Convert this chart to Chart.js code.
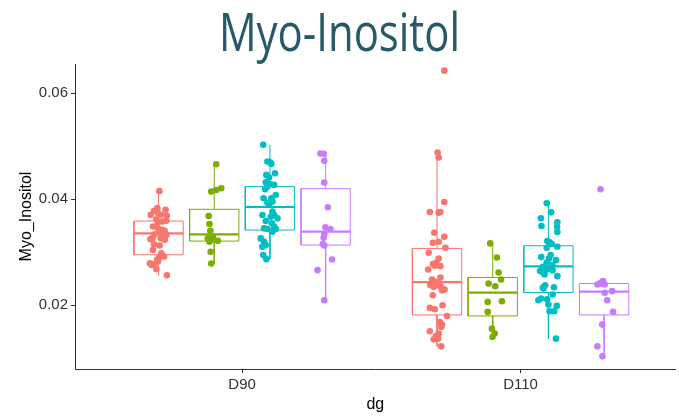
<!DOCTYPE html>
<html>
<head>
<meta charset="utf-8">
<script src="https://cdn.jsdelivr.net/npm/chart.js@4/dist/chart.umd.min.js"></script>
<style>
  html, body { margin: 0; padding: 0; background: #fff; }
  #wrap { position: relative; width: 679px; height: 418px; overflow: hidden; }
  #c { position: absolute; left: 0; top: 0; }
  #title {
    position: absolute; left: 0; top: 4px; width: 679px;
    text-align: center; font-family: 'Open Sans', sans-serif;
    font-size: 53px; line-height: 53px; color: #275A69;
    transform: scaleX(0.79); transform-origin: 339.5px 0;
  }
</style>
</head>
<body>
<div id="wrap">
  <canvas id="c" width="679" height="418"></canvas>
  <div id="title">Myo-Inositol</div>
</div>
<script>
// Categories on the x axis and the y tick values
const categories = ['D90', 'D110'];
const yTicks = [0.02, 0.04, 0.06];

// Measured values per group (four dodged groups per category)
const d90_g1 = [0.0415,0.02565,0.0383,0.03779,0.03704,0.03735,0.03798,0.03685,0.03704,0.03622,0.03565,0.03578,0.03591,0.03484,0.03452,0.03421,0.03402,0.03377,0.03358,0.03326,0.03339,0.03264,0.03245,0.03264,0.03232,0.0315,0.03125,0.03043,0.0298,0.02918,0.02899,0.02855,0.02792,0.0276,0.02773,0.02823,0.02685];
const d90_g2 = [0.04658,0.04142,0.04173,0.04205,0.03682,0.03531,0.03405,0.0326,0.03241,0.03216,0.03197,0.03008,0.02787,0.03292,0.03228];
const d90_g3 = [0.05024,0.04696,0.04709,0.04665,0.04457,0.04406,0.04488,0.04318,0.0428,0.04268,0.04186,0.04236,0.04016,0.04016,0.04079,0.03934,0.03953,0.03909,0.03701,0.03764,0.03701,0.03638,0.03587,0.03543,0.03449,0.03436,0.0348,0.03436,0.0326,0.03197,0.03134,0.03102,0.02945,0.02869,0.03386,0.03669];
const d90_g4 = [0.0486,0.04854,0.04721,0.04312,0.03846,0.03468,0.03436,0.03342,0.03272,0.03153,0.03128,0.02863,0.02661,0.02094];
const d110_g1 = [0.06422,0.04879,0.04784,0.03946,0.03757,0.03745,0.03757,0.03367,0.03197,0.03178,0.03291,0.03083,0.02989,0.02882,0.02806,0.02775,0.02737,0.02674,0.02743,0.02523,0.02485,0.02441,0.02378,0.02346,0.02334,0.02296,0.02409,0.02378,0.02189,0.02283,0.0195,0.01924,0.02,0.01798,0.01685,0.01635,0.01591,0.01509,0.01465,0.0142,0.01357,0.0137,0.01225];
const d110_g2 = [0.03165,0.02901,0.02617,0.02485,0.02409,0.02359,0.02063,0.02076,0.01874,0.01559,0.01465,0.01402];
const d110_g3 = [0.03921,0.03751,0.03638,0.03493,0.03562,0.0348,0.0338,0.03209,0.03184,0.03153,0.03102,0.03083,0.02945,0.02907,0.02882,0.0285,0.02806,0.02756,0.02724,0.02643,0.02617,0.0258,0.02661,0.02548,0.0268,0.02378,0.02334,0.0234,0.02126,0.02113,0.02202,0.02094,0.02013,0.01987,0.01887,0.01887,0.0137,0.02756,0.02315];
const d110_g4 = [0.04186,0.02391,0.02422,0.02454,0.02391,0.02409,0.02265,0.02233,0.02094,0.01874,0.01635,0.01225,0.01036];

// Horizontal jitter of each point (x units, relative to its box centre)
const d90_g1_jitter = [0.003,0.030,-0.004,-0.016,-0.028,-0.002,0.025,0.030,0.008,-0.008,-0.002,0.013,0.028,-0.020,-0.002,0.013,0.022,0.004,0.020,0.028,-0.014,-0.022,-0.029,0.008,0.022,-0.016,0.004,-0.020,0.010,0.020,0.002,-0.005,-0.031,-0.025,-0.016,-0.002,-0.008];
const d90_g2_jitter = [0.007,-0.011,0.007,0.025,-0.020,-0.017,-0.014,-0.023,-0.011,0.013,-0.017,-0.013,-0.011,-0.005,-0.019];
const d90_g3_jitter = [-0.024,0.001,-0.009,0.005,-0.013,-0.003,0.018,-0.015,0.001,0.015,-0.017,-0.009,-0.023,0.005,0.021,-0.009,0.009,-0.003,-0.027,0.009,0.015,0.027,-0.015,0.007,-0.021,-0.009,0.015,0.021,-0.033,-0.021,-0.015,-0.027,-0.024,-0.013,0.009,0.003];
const d90_g4_jitter = [-0.019,-0.007,-0.005,-0.005,0.008,-0.001,0.017,-0.005,-0.007,-0.010,-0.005,0.023,-0.029,-0.005];
const d110_g1_jitter = [0.026,0.002,0.006,0.026,-0.026,0.006,0.012,-0.010,0.006,-0.015,0.026,0.030,-0.030,0.006,-0.002,-0.015,0.012,-0.032,-0.008,0.012,-0.018,-0.006,0.004,-0.012,0.015,0.027,0.010,-0.024,-0.015,0.018,-0.026,-0.008,0.020,0.036,0.010,0.018,0.015,-0.026,0.006,-0.004,-0.012,0.004,0.015];
const d110_g2_jitter = [-0.009,0.015,0.021,0.030,-0.015,0.009,-0.018,0.033,-0.018,-0.003,0.007,-0.001];
const d110_g3_jitter = [-0.006,0.010,-0.027,-0.025,0.032,0.031,0.032,-0.004,0.004,0.012,0.032,-0.006,0.008,-0.026,0.002,0.027,-0.006,0.014,-0.020,-0.030,-0.018,-0.014,0.015,0.032,-0.004,-0.012,-0.020,0.020,-0.026,-0.005,0.015,-0.036,0.000,0.030,0.004,0.021,0.027,0.006,-0.018];
const d110_g4_jitter = [-0.013,-0.024,-0.013,-0.004,0.002,-0.010,0.029,0.002,0.011,0.032,-0.007,-0.024,-0.006];

// Box summaries: rows = categories, columns = groups
const whiskerLow  = [[0.02567,0.02787,0.02869,0.02094],[0.01225,0.01402,0.0137,0.01036]];
const boxQ1       = [[0.02951,0.03209,0.03417,0.03134],[0.01817,0.01798,0.02239,0.01817]];
const boxMedian   = [[0.03354,0.03335,0.03852,0.03386],[0.02435,0.02239,0.02731,0.02258]];
const boxQ3       = [[0.03587,0.03808,0.04236,0.04198],[0.03071,0.02523,0.03121,0.0241]];
const whiskerHigh = [[0.0415,0.04658,0.05024,0.0486],[0.04879,0.03165,0.03921,0.02454]];

// Styling and dodge geometry
const palette = ['#F8766D', '#7CAE00', '#00BFC4', '#C77CFF'];
const dodge = [-0.3, -0.1, 0.1, 0.3];
const halfBox = 0.0885;

const values = [[d90_g1, d90_g2, d90_g3, d90_g4], [d110_g1, d110_g2, d110_g3, d110_g4]];
const jitters = [[d90_g1_jitter, d90_g2_jitter, d90_g3_jitter, d90_g4_jitter],
                 [d110_g1_jitter, d110_g2_jitter, d110_g3_jitter, d110_g4_jitter]];

const datasets = [];
const lineDs = (data, color, width) => ({
  data, showLine: true, borderColor: color, borderWidth: width,
  pointRadius: 0, pointHoverRadius: 0, fill: false, tension: 0, order: 1,
  borderJoinStyle: 'miter'
});

categories.forEach((cat, ci) => {
  const base = ci + 1;
  palette.forEach((col, gi) => {
    const c = base + dodge[gi];
    const l = c - halfBox, r = c + halfBox;
    const q1 = boxQ1[ci][gi], q3 = boxQ3[ci][gi];
    // box outline
    datasets.push(lineDs([{x:l,y:q1},{x:r,y:q1},{x:r,y:q3},{x:l,y:q3},{x:l,y:q1}], col, 1));
    // median
    datasets.push(lineDs([{x:l,y:boxMedian[ci][gi]},{x:r,y:boxMedian[ci][gi]}], col, 2.2));
    // whiskers
    datasets.push(lineDs([{x:c,y:q3},{x:c,y:whiskerHigh[ci][gi]}], col, 1));
    datasets.push(lineDs([{x:c,y:q1},{x:c,y:whiskerLow[ci][gi]}], col, 1));
    // jittered points
    const vals = values[ci][gi], jit = jitters[ci][gi];
    datasets.push({
      data: vals.map((v, i) => ({ x: c + jit[i], y: v })),
      backgroundColor: col, borderWidth: 0, pointRadius: 3.3,
      pointHoverRadius: 3.3, showLine: false, order: 0
    });
  });
});

const tickFont = { family: 'Liberation Sans', size: 15 };
const titleFont = { family: 'Liberation Sans', size: 16 };

new Chart(document.getElementById('c'), {
  type: 'scatter',
  data: { datasets },
  options: {
    responsive: false,
    animation: false,
    devicePixelRatio: 1,
    layout: { padding: { top: 64, right: 0, bottom: 0, left: 0 } },
    plugins: { legend: { display: false }, tooltip: { enabled: false } },
    scales: {
      x: {
        type: 'linear', min: 0.4, max: 2.557,
        afterBuildTicks: s => { s.ticks = categories.map((_, i) => ({ value: i + 1 })); },
        afterFit: s => { s.height = 49; },
        ticks: {
          callback: v => categories[Math.round(v) - 1],
          font: tickFont, color: '#333', padding: 3, maxRotation: 0, autoSkip: false
        },
        grid: { display: true, drawOnChartArea: false, drawTicks: true, tickLength: 4, color: '#333' },
        border: { display: true, color: '#333', width: 1 },
        title: { display: true, text: 'dg', font: titleFont, color: '#000', padding: { top: 0, bottom: 4 } }
      },
      y: {
        type: 'linear', min: 0.00798, max: 0.06547,
        afterBuildTicks: s => { s.ticks = yTicks.map(v => ({ value: v })); },
        afterFit: s => { s.width = 75; },
        ticks: {
          callback: v => v.toFixed(2),
          font: tickFont, color: '#333', padding: 3
        },
        grid: { display: true, drawOnChartArea: false, drawTicks: true, tickLength: 4, color: '#333' },
        border: { display: true, color: '#333', width: 1 },
        title: { display: true, text: 'Myo_Inositol', font: titleFont, color: '#000', padding: { top: 17, bottom: 0 } }
      }
    }
  }
});
</script>
</body>
</html>
